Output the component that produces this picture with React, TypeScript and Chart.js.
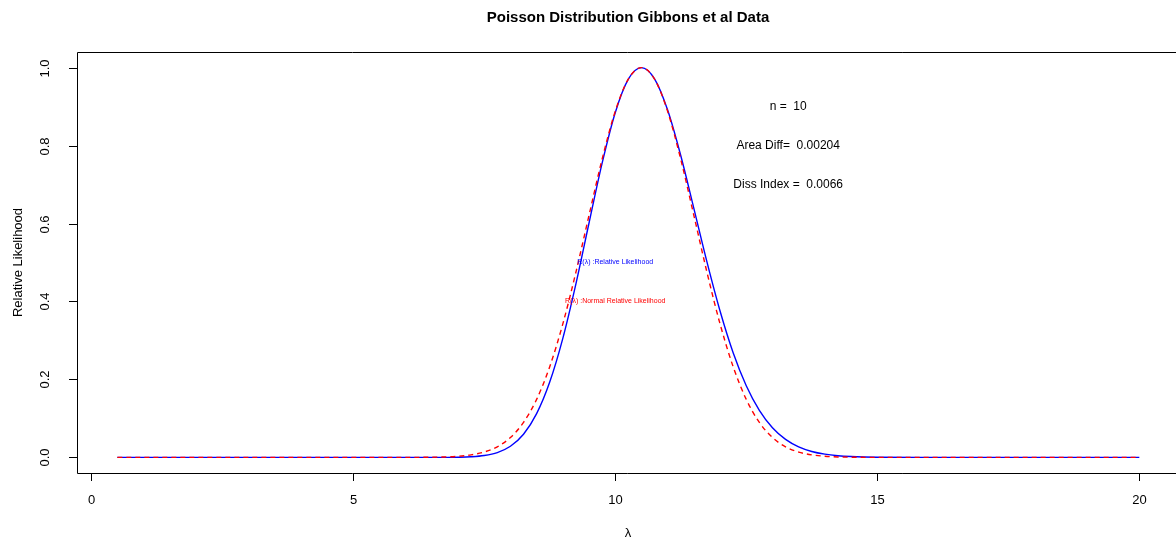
import React, { useEffect, useRef } from "react";
import { Chart, registerables } from "chart.js";

Chart.register(...registerables);

const lambdaValues = [
  0.5, 2, 4, 6, 6.5, 6.75, 7, 7.25, 7.5, 7.75, 8, 8.25, 8.5, 8.75, 9, 9.25, 9.5, 9.75,
  10, 10.25, 10.5, 10.75, 11, 11.25, 11.5, 11.75, 12, 12.25, 12.5, 12.75, 13, 13.25,
  13.5, 13.75, 14, 14.25, 14.5, 14.75, 15, 16, 18, 20,
];
const relLik = [
  0, 0, 0, 0, 0.00003, 0.00014, 0.00051, 0.00168, 0.00484, 0.01245, 0.02864, 0.05948,
  0.1122, 0.19328, 0.30551, 0.44535, 0.60128, 0.75478, 0.88427, 0.97025, 1, 0.97118,
  0.89101, 0.7744, 0.63896, 0.50165, 0.37568, 0.26868, 0.18402, 0.1208, 0.07616,
  0.04621, 0.027, 0.01522, 0.00828, 0.00436, 0.00222, 0.0011, 0.00053, 0, 0, 0,
];
const normLik = [
  0, 0, 0, 0.00007, 0.00049, 0.00123, 0.00293, 0.00654, 0.01376, 0.0273, 0.05099,
  0.08975, 0.14885, 0.23262, 0.34251, 0.47517, 0.62115, 0.76502, 0.88777, 0.97068, 1,
  0.97068, 0.88777, 0.76502, 0.62115, 0.47517, 0.34251, 0.23262, 0.14885, 0.08975,
  0.05099, 0.0273, 0.01376, 0.00654, 0.00293, 0.00123, 0.00049, 0.00019, 0.00007, 0, 0, 0,
];
const xTicks = [0, 5, 10, 15, 20];
const yTicks = [0, 0.2, 0.4, 0.6, 0.8, 1.0];
const titleText = "Poisson Distribution Gibbons et al Data";
const xTitle = "λ";
const yTitle = "Relative Likelihood";
const statLabels = ["n =  10", "Area Diff=  0.00204", "Diss Index =  0.0066"];
const statY = [0.9, 0.8, 0.7];
const statX = 13.3;
const legendLabels = ["R(λ) :Relative Likelihood", "R(λ) :Normal Relative Likelihood"];
const legendY = [0.5, 0.4];
const legendX = 10;

const FONT = "Arial, 'Liberation Sans', sans-serif";

const decorPlugin = {
  id: "rdecor",
  afterDraw(chart: any) {
    const { ctx, chartArea, scales } = chart;
    const xs = scales.x;
    const ys = scales.y;
    ctx.save();
    ctx.strokeStyle = "#000";
    ctx.lineWidth = 1;
    // box (right side beyond canvas)
    ctx.beginPath();
    ctx.moveTo(chartArea.right + 10, Math.round(chartArea.top) + 0.5);
    ctx.lineTo(Math.round(chartArea.left) + 0.5, Math.round(chartArea.top) + 0.5);
    ctx.lineTo(Math.round(chartArea.left) + 0.5, Math.round(chartArea.bottom) + 0.5);
    ctx.lineTo(chartArea.right + 10, Math.round(chartArea.bottom) + 0.5);
    ctx.stroke();
    ctx.fillStyle = "#000";
    ctx.font = `13px ${FONT}`;
    // x ticks
    ctx.textAlign = "center";
    ctx.textBaseline = "middle";
    for (const v of xTicks) {
      const px = Math.round(xs.getPixelForValue(v)) + 0.5;
      ctx.beginPath();
      ctx.moveTo(px, chartArea.bottom);
      ctx.lineTo(px, chartArea.bottom + 8);
      ctx.stroke();
      ctx.fillText(String(v), px, chartArea.bottom + 27);
    }
    // y ticks
    for (const v of yTicks) {
      const py = Math.round(ys.getPixelForValue(v)) + 0.5;
      ctx.beginPath();
      ctx.moveTo(chartArea.left, py);
      ctx.lineTo(chartArea.left - 8, py);
      ctx.stroke();
      ctx.save();
      ctx.translate(chartArea.left - 32, py);
      ctx.rotate(-Math.PI / 2);
      ctx.fillText(v.toFixed(1), 0, 0);
      ctx.restore();
    }
    // axis titles
    ctx.fillText(xTitle, 628, 533);
    ctx.save();
    ctx.translate(18, (chartArea.top + chartArea.bottom) / 2);
    ctx.rotate(-Math.PI / 2);
    ctx.fillText(yTitle, 0, 0);
    ctx.restore();
    // title
    ctx.font = `bold 15px ${FONT}`;
    ctx.fillText(titleText, 628, 18);
    // stats
    ctx.font = `12px ${FONT}`;
    statLabels.forEach((s, i) => {
      ctx.fillText(s, xs.getPixelForValue(statX), ys.getPixelForValue(statY[i]));
    });
    // legend-like labels
    ctx.font = `7px ${FONT}`;
    ctx.fillStyle = "#0000ff";
    ctx.fillText(legendLabels[0], xs.getPixelForValue(legendX), ys.getPixelForValue(legendY[0]));
    ctx.fillStyle = "#ff0000";
    ctx.fillText(legendLabels[1], xs.getPixelForValue(legendX), ys.getPixelForValue(legendY[1]));
    ctx.restore();
  },
};

export default function App() {
  const canvasRef = useRef<HTMLCanvasElement | null>(null);
  useEffect(() => {
    document.body.style.margin = "0";
    const canvas = canvasRef.current;
    if (!canvas) return;
    const chart = new Chart(canvas, {
      type: "line",
      data: {
        datasets: [
          {
            label: "R(λ)",
            data: lambdaValues.map((x, i) => ({ x, y: relLik[i] })),
            borderColor: "#0000ff",
            borderWidth: 1.4,
            pointRadius: 0,
            cubicInterpolationMode: "monotone",
            fill: false,
            order: 2,
          },
          {
            label: "Normal R(λ)",
            data: lambdaValues.map((x, i) => ({ x, y: normLik[i] })),
            borderColor: "#ff0000",
            borderWidth: 1.4,
            borderDash: [5, 4],
            pointRadius: 0,
            cubicInterpolationMode: "monotone",
            fill: false,
            order: 1,
          },
        ],
      },
      options: {
        animation: false,
        responsive: false,
        maintainAspectRatio: false,
        layout: { padding: { left: 77, top: 52, right: 0, bottom: 73 } },
        plugins: { legend: { display: false }, tooltip: { enabled: false }, title: { display: false } },
        scales: {
          x: { type: "linear", min: -0.27, max: 20.7, display: false },
          y: { type: "linear", min: -0.04, max: 1.04, display: false },
        },
      },
      plugins: [decorPlugin],
    });
    return () => chart.destroy();
  }, []);
  return (
    <div style={{ position: "absolute", left: 0, top: 0, width: 1176, height: 546, background: "#fff" }}>
      <canvas ref={canvasRef} width={1176} height={546} style={{ width: 1176, height: 546, display: "block" }} />
    </div>
  );
}
